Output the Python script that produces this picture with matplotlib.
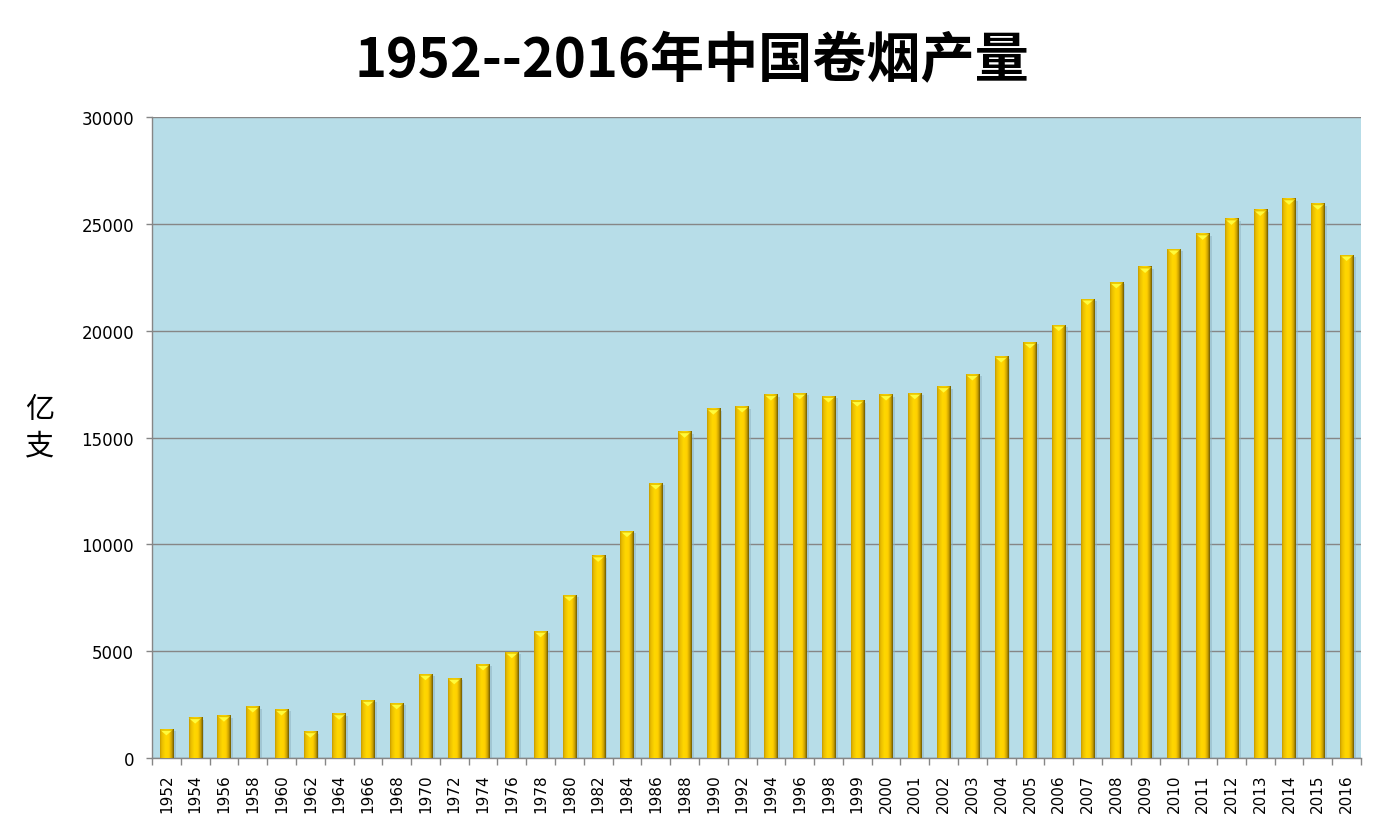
import numpy as np
import matplotlib
matplotlib.use("Agg")
import matplotlib.pyplot as plt
from matplotlib.colors import LinearSegmentedColormap
from matplotlib.patches import Polygon

plt.rcParams['font.family'] = ['DejaVu Sans', 'Noto Sans CJK SC']

years = ["1952", "1954", "1956", "1958", "1960", "1962", "1964", "1966", "1968",
         "1970", "1972", "1974", "1976", "1978", "1980", "1982", "1984", "1986",
         "1988", "1990", "1992", "1994", "1996", "1998", "1999", "2000", "2001",
         "2002", "2003", "2004", "2005", "2006", "2007", "2008", "2009", "2010",
         "2011", "2012", "2013", "2014", "2015", "2016"]
output = [1340, 1890, 1980, 2410, 2270, 1230, 2070, 2700, 2560,
          3920, 3730, 4380, 4950, 5930, 7620, 9460, 10620, 12850,
          15270, 16350, 16450, 17010, 17070, 16920, 16730, 17010, 17070,
          17380, 17950, 18790, 19450, 20260, 21480, 22260, 22980, 23820,
          24530, 25230, 25650, 26170, 25940, 23540]
yticks = [0, 5000, 10000, 15000, 20000, 25000, 30000]

title = "1952--2016年中国卷烟产量"
ylabel = "亿\n支"

W, H = 1384, 829
fig = plt.figure(figsize=(W / 100, H / 100), dpi=100)
ax = fig.add_axes([152 / W, 1 - 759 / H, (1361 - 152) / W, (759 - 118) / H])
ax.set_facecolor('#B7DDE8')

x = np.arange(len(years))
bw = 0.46
ax.set_xlim(-0.5, len(years) - 0.5)
ax.set_ylim(0, 30000)

# per-pixel data units
ypx = 30000 / (759 - 118)
xpx = len(years) / (1361 - 152)

ax.yaxis.grid(True, color='#868686', linewidth=1.0, zorder=0)
ax.set_axisbelow(True)

# shadows
ax.bar(x + 2.5 * xpx, np.array(output) - 2 * ypx, width=bw, bottom=0,
       color='#8fb4c2', alpha=0.55, linewidth=0, zorder=1)

bars = ax.bar(x, output, width=bw, color='#FFD200', linewidth=0, zorder=2)

cmap = LinearSegmentedColormap.from_list(
    'gold', [(0.0, '#C49A00'), (0.12, '#E8BC00'), (0.4, '#FFD700'),
             (0.65, '#FFD000'), (0.85, '#C9A000'), (1.0, '#6E5A00')])
grad = np.linspace(0, 1, 64).reshape(1, -1)
for xi, v in zip(x, output):
    ax.imshow(grad, cmap=cmap, aspect='auto', interpolation='bilinear',
              extent=(xi - bw / 2, xi + bw / 2, 0, v), zorder=3)
    ax.add_patch(Polygon([(xi - bw / 2, v), (xi - bw / 2 + 1.5 * xpx, v - 1.5 * ypx),
                          (xi + bw / 2 - 1.5 * xpx, v - 1.5 * ypx), (xi + bw / 2, v)],
                         closed=True, facecolor='#E8C400', edgecolor='none', zorder=4))
    d = 6 * ypx
    ax.add_patch(Polygon([(xi - bw / 2 + 1.5 * xpx, v - 1.5 * ypx),
                          (xi + bw / 2 - 1.5 * xpx, v - 1.5 * ypx), (xi, v - d)],
                         closed=True, facecolor='#FFFA3C', edgecolor='none', zorder=4))

ax.set_xlim(-0.5, len(years) - 0.5)
ax.set_ylim(0, 30000)

ax.set_xticks(x)
ax.set_xticklabels(years, rotation=90, fontsize=11)
ax.set_xticks(np.arange(-0.5, len(years), 1.0), minor=True)
ax.tick_params(axis='x', which='major', length=0, pad=11)
ax.tick_params(axis='x', which='minor', length=5, color='#868686', width=1)

ax.set_yticks(yticks)
ax.set_yticklabels([str(t) for t in yticks], fontsize=12)
ax.tick_params(axis='y', length=4, color='#868686', width=1, pad=9)

for s in ['top', 'right']:
    ax.spines[s].set_visible(False)
for s in ['left', 'bottom']:
    ax.spines[s].set_color('#868686')
    ax.spines[s].set_linewidth(1)

fig.text(0.5, 1 - 62 / H, title, ha='center', va='center', fontsize=39,
         fontweight='bold', family=['Noto Sans CJK SC', 'DejaVu Sans'])
fig.text(40 / W, 1 - 428 / H, ylabel, ha='center', va='center', fontsize=21,
         linespacing=1.3, family=['Noto Sans CJK SC', 'DejaVu Sans'])

fig.savefig('out.png', dpi=100)
